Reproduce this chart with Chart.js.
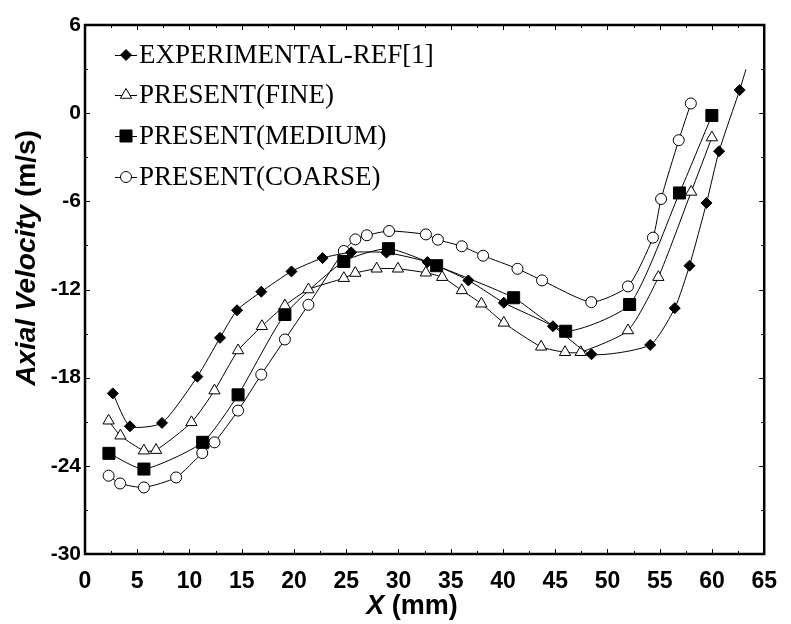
<!DOCTYPE html>
<html>
<head>
<meta charset="utf-8">
<script src="https://cdn.jsdelivr.net/npm/chart.js@4.4.0/dist/chart.umd.min.js"></script>
<style>
html,body{margin:0;padding:0;background:#fff;}
#wrap{width:791px;height:624px;position:relative;}
</style>
</head>
<body>
<div id="wrap"><canvas id="c"></canvas></div>
<script>
// ---- data ----
const xTicks = [0,5,10,15,20,25,30,35,40,45,50,55,60,65];
const yTicks = [6,0,-6,-12,-18,-24,-30];
const seriesNames = ['EXPERIMENTAL-REF[1]','PRESENT(FINE)','PRESENT(MEDIUM)','PRESENT(COARSE)'];

const expX = [2.66,4.30,7.37,10.75,12.92,14.55,16.87,19.76,22.74,25.47,28.85,32.77,36.69,40.08,44.78,48.47,54.09,56.44,57.85,59.48,60.68,62.65,63.25];
const expY = [-19.07,-21.31,-21.08,-17.93,-15.29,-13.41,-12.15,-10.77,-9.86,-9.47,-9.49,-10.13,-11.38,-12.90,-14.50,-16.41,-15.77,-13.27,-10.38,-6.11,-2.59,1.57,2.98];

const fineX = [2.26,3.39,5.64,6.80,10.19,12.39,14.65,16.93,19.13,21.38,24.77,25.87,27.91,29.95,32.62,34.18,36.06,37.94,40.08,43.65,45.94,47.44,51.96,54.87,58.01,59.99];
const fineY = [-20.93,-21.95,-22.97,-22.93,-21.04,-18.88,-16.15,-14.50,-13.09,-12.00,-11.23,-10.88,-10.59,-10.59,-10.86,-11.16,-12.06,-12.97,-14.27,-15.90,-16.27,-16.27,-14.79,-11.16,-5.36,-1.66];

const medX = [2.29,5.64,11.26,14.65,19.13,24.77,29.04,33.65,41.02,46.00,52.12,56.89,59.99];
const medY = [-23.15,-24.22,-22.40,-19.17,-13.70,-10.09,-9.22,-10.38,-12.56,-14.84,-13.02,-5.43,-0.16];

const coarseX = [2.26,3.36,5.64,8.72,11.22,12.39,14.65,16.87,19.13,21.38,24.77,25.87,26.97,29.10,32.62,33.77,36.06,38.10,41.39,43.74,48.45,51.96,54.35,55.13,56.82,57.98];
const coarseY = [-24.67,-25.20,-25.47,-24.79,-23.13,-22.40,-20.24,-17.79,-15.40,-13.04,-9.38,-8.59,-8.31,-8.02,-8.25,-8.61,-9.06,-9.70,-10.59,-11.38,-12.86,-11.79,-8.47,-5.84,-1.84,0.66];

// ---- build datasets ----
function pts(xs, ys){ return xs.map((x,i)=>({x:x, y:ys[i]})); }
const styles = [
  {pointStyle:'rectRot', radius:5.5, fill:'#000'},
  {pointStyle:'triangle', radius:6.5, fill:'#fff'},
  {pointStyle:'rect', radius:8.5, fill:'#000'},
  {pointStyle:'circle', radius:5.5, fill:'#fff'}
];
const allData = [pts(expX,expY), pts(fineX,fineY), pts(medX,medY), pts(coarseX,coarseY)];
const datasets = allData.map((d,i)=>({
  label: seriesNames[i],
  data: d,
  showLine: true,
  borderColor:'#000',
  borderWidth:1,
  tension:0.2,
  pointStyle: styles[i].pointStyle,
  pointRadius: (i===0) ? (ctx => ctx.dataIndex === expX.length-1 ? 0 : styles[0].radius) : styles[i].radius,
  pointBackgroundColor: styles[i].fill,
  pointBorderColor:'#000',
  pointBorderWidth:1
}));

const SANS = "'Liberation Sans', Arial, Helvetica, sans-serif";
const SERIF = "'Liberation Serif', 'Times New Roman', serif";

const framePlugin = {
  id:'frame',
  afterDatasetsDraw(chart){
    const ctx = chart.ctx, a = chart.chartArea;
    const xs = chart.scales.x, ys = chart.scales.y;
    ctx.save();
    // minor & major ticks inward on all sides
    ctx.strokeStyle='#000'; ctx.lineWidth=1;
    ctx.beginPath();
    for(let v=0; v<=65.001; v+=2.5){
      const px = Math.round(xs.getPixelForValue(v))+0.5;
      const L = (Math.abs(v/5-Math.round(v/5))<1e-6)?5:3;
      ctx.moveTo(px,a.bottom); ctx.lineTo(px,a.bottom-L);
      ctx.moveTo(px,a.top); ctx.lineTo(px,a.top+L);
    }
    for(let v=-30; v<=6.001; v+=3){
      const py = Math.round(ys.getPixelForValue(v))+0.5;
      const L = (Math.abs(v/6-Math.round(v/6))<1e-6)?5:3;
      ctx.moveTo(a.left,py); ctx.lineTo(a.left+L,py);
      ctx.moveTo(a.right,py); ctx.lineTo(a.right-L,py);
    }
    ctx.stroke();
    // frame
    ctx.lineWidth=2.5;
    ctx.strokeRect(a.left, a.top, a.right-a.left, a.bottom-a.top);

    // legend
    const rows=[55,95,136,177];
    chart.data.datasets.forEach((ds,i)=>{
      const y = rows[i];
      ctx.lineWidth=1; ctx.strokeStyle='#000';
      ctx.beginPath(); ctx.moveTo(115,y+0.5); ctx.lineTo(137,y+0.5); ctx.stroke();
      ctx.fillStyle = styles[i].fill;
      Chart.helpers.drawPoint(ctx,{pointStyle:styles[i].pointStyle, radius:styles[i].radius, rotation:0, borderWidth:1}, 126, y);
      ctx.fillStyle='#000';
      ctx.font = '27px '+SERIF;
      ctx.textBaseline='middle'; ctx.textAlign='left';
      ctx.fillText(ds.label, 139, y+1);
    });

    // axis titles (italic variable + bold unit)
    function mixed(parts, cx, cy){
      let w=0;
      parts.forEach(p=>{ctx.font=p.f; p.w=ctx.measureText(p.t).width; w+=p.w;});
      let x=cx-w/2;
      ctx.textBaseline='middle'; ctx.textAlign='left'; ctx.fillStyle='#000';
      parts.forEach(p=>{ctx.font=p.f; ctx.fillText(p.t,x,cy); x+=p.w;});
    }
    mixed([{t:'X',f:'italic bold 27px '+SANS},{t:' (mm)',f:'bold 27px '+SANS}], 412, 607);
    ctx.translate(27, 258); ctx.rotate(-Math.PI/2);
    mixed([{t:'Axial Velocity',f:'italic bold 28px '+SANS},{t:' (m/s)',f:'bold 28px '+SANS}], 0, 0);
    ctx.restore();
  }
};

new Chart(document.getElementById('c'), {
  type:'scatter',
  data:{datasets:datasets},
  options:{
    responsive:true, maintainAspectRatio:false, animation:false,
    layout:{padding:{left:0,right:15,top:25,bottom:0}},
    plugins:{legend:{display:false}, tooltip:{enabled:false}},
    scales:{
      x:{
        type:'linear', min:0, max:65,
        afterBuildTicks: s => { s.ticks = xTicks.map(v=>({value:v})); },
        afterFit: s => { s.height = 70; },
        grid:{display:false, drawTicks:false},
        border:{display:false},
        ticks:{color:'#000', font:{family:SANS, size:23, weight:'bold'}, padding:14, maxRotation:0, autoSkip:false,
          callback:v=>String(v)}
      },
      y:{
        type:'linear', min:-30, max:6,
        afterBuildTicks: s => { s.ticks = yTicks.map(v=>({value:v})); },
        afterFit: s => { s.width = 85; },
        grid:{display:false, drawTicks:false},
        border:{display:false},
        ticks:{color:'#000', font:{family:SANS, size:21, weight:'bold'}, padding:4, autoSkip:false,
          callback:v=>String(v)}
      }
    }
  },
  plugins:[framePlugin]
});
</script>
</body>
</html>
